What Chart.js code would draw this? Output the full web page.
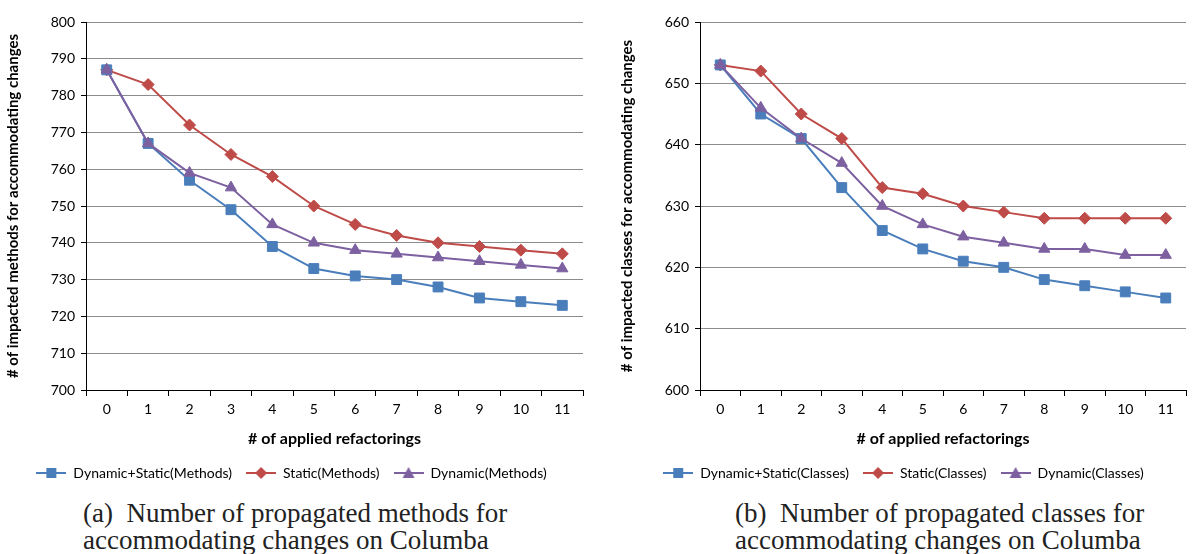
<!DOCTYPE html>
<html>
<head>
<meta charset="UTF-8" />
<title>Propagated changes on Columba</title>
<script src="https://cdn.jsdelivr.net/npm/chart.js"></script>
<style>
  body { margin: 0; background: #fff; width: 1194px; height: 554px; position: relative; overflow: hidden; }
  .box { position: absolute; top: 0; }
  .caption { position: absolute; font-family: "Liberation Serif", "DejaVu Serif", serif; font-size: 27px; line-height: 27px; color: #222; white-space: nowrap; }
</style>
</head>
<body>

<div class="box" style="left:0; width:595px; height:490px;"><canvas id="methodsChart"></canvas></div>
<div class="box" style="left:614px; width:580px; height:490px;"><canvas id="classesChart"></canvas></div>

<div class="caption" style="left:83px; top:500px;">(a)&nbsp; Number of propagated methods for<br>accommodating changes on Columba</div>
<div class="caption" style="left:735px; top:500px;">(b)&nbsp; Number of propagated classes for<br>accommodating changes on Columba</div>

<script>
  // 1) Data
  const refactorings = ['0', '1', '2', '3', '4', '5', '6', '7', '8', '9', '10', '11'];

  const methodsDynStatic = [787, 767, 757, 749, 739, 733, 731, 730, 728, 725, 724, 723];
  const methodsStatic    = [787, 783, 772, 764, 758, 750, 745, 742, 740, 739, 738, 737];
  const methodsDynamic   = [787, 767, 759, 755, 745, 740, 738, 737, 736, 735, 734, 733];

  const classesDynStatic = [653, 645, 641, 633, 626, 623, 621, 620, 618, 617, 616, 615];
  const classesStatic    = [653, 652, 645, 641, 633, 632, 630, 629, 628, 628, 628, 628];
  const classesDynamic   = [653, 646, 641, 637, 630, 627, 625, 624, 623, 623, 622, 622];

  const BLUE = '#4a7ebb', RED = '#be4b48', PURPLE = '#7d60a0';
  const FONT = 'Lato, "Open Sans", sans-serif';
  const TICK_FONT = { family: FONT, size: 14 };

  // 2) Legend icons: a short line with the marker in the middle
  function legendIcon(color, style) {
    const c = document.createElement('canvas');
    c.width = 30; c.height = 14;
    const g = c.getContext('2d');
    g.strokeStyle = color; g.fillStyle = color; g.lineWidth = 2;
    g.beginPath(); g.moveTo(0, 7); g.lineTo(30, 7); g.stroke();
    g.beginPath();
    if (style === 'rect') { g.rect(10, 2, 10, 10); }
    else if (style === 'rectRot') { g.moveTo(15, 1); g.lineTo(21, 7); g.lineTo(15, 13); g.lineTo(9, 7); g.closePath(); }
    else { g.moveTo(15, 1); g.lineTo(21, 12); g.lineTo(9, 12); g.closePath(); }
    g.fill();
    return c;
  }

  function series(label, data, color, style, radius, order) {
    return {
      label, data, order,
      borderColor: color, backgroundColor: color,
      borderWidth: 2,
      pointStyle: style, pointRadius: radius, pointHoverRadius: radius,
      pointBackgroundColor: color, pointBorderColor: color, pointBorderWidth: 1,
      tension: 0,
      icon: legendIcon(color, style)
    };
  }

  // 3) Chart builder
  function makeChart(id, datasets, yMin, yMax, yTitle, padRight) {
    const ctx = document.getElementById(id).getContext('2d');
    return new Chart(ctx, {
      type: 'line',
      data: { labels: refactorings, datasets },
      options: {
        responsive: true,
        maintainAspectRatio: false,
        animation: false,
        layout: { padding: { top: 22, right: padRight, bottom: 0, left: 0 } },
        scales: {
          x: {
            offset: true,
            grid: { offset: true, drawOnChartArea: false, color: '#000', tickLength: 6 },
            border: { color: '#000', width: 1 },
            ticks: { color: '#000', font: TICK_FONT, padding: 5, maxRotation: 0 },
            title: { display: true, text: '# of applied refactorings', color: '#000',
                     font: { family: FONT, size: 16, weight: 'bold' }, padding: { top: 8 } },
            afterFit: s => { s.height = 62; }
          },
          y: {
            min: yMin, max: yMax,
            ticks: { stepSize: 10, color: '#000', font: TICK_FONT, padding: 6 },
            grid: { color: '#8c8c8c', tickColor: '#000', tickLength: 5 },
            border: { color: '#000', width: 1 },
            title: { display: true, text: yTitle, color: '#000',
                     font: { family: FONT, size: 15, weight: 'bold' }, padding: { bottom: 2 } },
            afterFit: s => { s.width = 86; }
          }
        },
        plugins: {
          tooltip: { enabled: false },
          legend: {
            position: 'bottom',
            labels: {
              usePointStyle: true,
              pointStyleWidth: 30,
              boxHeight: 14,
              padding: 14,
              color: '#000',
              font: { family: FONT, size: 14 },
              sort: (a, b) => a.datasetIndex - b.datasetIndex,
              generateLabels: chart => {
                const items = Chart.defaults.plugins.legend.labels.generateLabels(chart);
                items.forEach(it => { it.pointStyle = chart.data.datasets[it.datasetIndex].icon; });
                return items;
              }
            }
          }
        }
      }
    });
  }

  // 4) Draw both panels
  makeChart('methodsChart', [
    series('Dynamic+Static(Methods)', methodsDynStatic, BLUE, 'rect', 7, 1),
    series('Static(Methods)', methodsStatic, RED, 'rectRot', 6, 2),
    series('Dynamic(Methods)', methodsDynamic, PURPLE, 'triangle', 6.5, 0)
  ], 700, 800, '# of impacted methods for accommodating changes', 12);

  makeChart('classesChart', [
    series('Dynamic+Static(Classes)', classesDynStatic, BLUE, 'rect', 7, 1),
    series('Static(Classes)', classesStatic, RED, 'rectRot', 6, 2),
    series('Dynamic(Classes)', classesDynamic, PURPLE, 'triangle', 6.5, 0)
  ], 600, 660, '# of impacted classes for accommodating changes', 1);
</script>

</body>
</html>
